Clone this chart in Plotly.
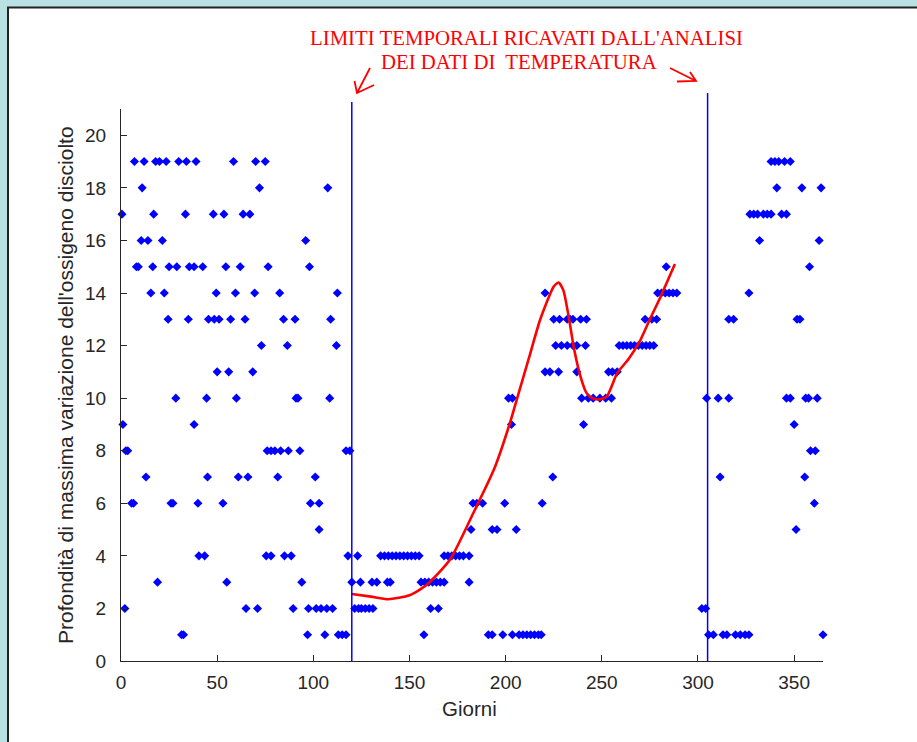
import plotly.graph_objects as go

# ---- data: days (Giorni) at which each depth value occurs ----
giorni_19 = [7, 12, 18, 20, 23.5, 30, 34, 39, 58.5, 70, 75, 338, 340, 342, 345, 348]
giorni_18 = [11, 72, 107.5, 341, 354, 364]
giorni_17 = [0.5, 17, 33.5, 48, 53.5, 63.5, 67, 327, 329, 331, 334, 336, 338, 343.5, 346]
giorni_16 = [10.5, 14, 21.5, 96, 332, 363]
giorni_15 = [8, 9, 16.5, 25, 29, 35.5, 38, 42.5, 54.5, 62, 76.5, 98, 283.5, 358]
giorni_14 = [15.5, 22.5, 49.5, 59.5, 69.5, 82.5, 112.5, 220.5, 279, 281, 283, 285, 287, 289, 326.5]
giorni_13 = [24.5, 35, 45.5, 48.5, 51, 57, 64.5, 84.5, 90.5, 109, 225, 228, 232, 233.5, 235, 239,
             242, 272.5, 276, 278.5, 316, 318.5, 351.5, 353]
giorni_12 = [73, 86.5, 112, 226, 229, 232, 235, 237, 241.5, 259, 261, 263, 265, 267, 269, 271,
             273, 275, 277]
giorni_11 = [50, 56, 68.5, 220.5, 223, 227.5, 237, 253.5, 255.5, 258]
giorni_10 = [28.5, 44.5, 60, 91, 92, 108.5, 201.5, 203.5, 239.5, 243, 245.5, 249, 252, 255,
             304.5, 310.5, 316, 346, 348, 356, 357.5, 362]
giorni_9 = [1, 38, 203, 240.5, 350]
giorni_8 = [2.5, 3.5, 76, 78, 80, 83, 87, 93, 117, 119, 358.5, 361]
giorni_7 = [13, 45, 61, 66, 81.5, 101, 224.5, 311.5, 355.5]
giorni_6 = [5.5, 6.5, 26, 27, 40, 53, 98.5, 103, 183, 185, 188, 199.5, 219, 360.5]
giorni_5 = [103, 182, 193, 195.5, 205.5, 351]
giorni_4 = [40.5, 43.5, 75.5, 78, 85, 88.5, 118, 123, 135, 137, 139, 141, 143, 145, 147, 149,
            151, 153, 155, 168, 170, 172, 174, 176, 178, 181]
giorni_3 = [19, 55, 94, 120, 124.5, 130.5, 133, 138.5, 140, 156, 158, 160, 162, 164, 166, 168, 181]
giorni_2 = [2, 65, 71, 89.5, 97.5, 101.5, 104, 107, 110, 121.5, 123.5, 125, 127, 129, 131,
            161, 165, 302, 304]
giorni_1 = [31.5, 32.5, 97, 106, 113, 115, 117, 157.5, 191, 193, 198.5, 203.5, 207, 209, 211,
            213, 215, 217, 218.5, 305.5, 308, 313, 315, 319.5, 322, 324.5, 326.5, 365]

righe = {19: giorni_19, 18: giorni_18, 17: giorni_17, 16: giorni_16, 15: giorni_15,
         14: giorni_14, 13: giorni_13, 12: giorni_12, 11: giorni_11, 10: giorni_10,
         9: giorni_9, 8: giorni_8, 7: giorni_7, 6: giorni_6, 5: giorni_5, 4: giorni_4,
         3: giorni_3, 2: giorni_2, 1: giorni_1}

# red fitted curve
curva_x = [120, 130, 139, 150, 159, 171, 183, 194, 202, 206, 212, 218, 225, 227.5, 230, 233,
           235.5, 239, 242, 245, 248.5, 252.5, 258, 264, 270, 275, 280.5, 288]
curva_y = [2.55, 2.45, 2.35, 2.5, 2.9, 3.85, 5.6, 7.3, 9.0, 10.0, 11.5, 13.0, 14.25, 14.4, 14.1,
           13.0, 11.9, 10.8, 10.2, 10.0, 9.95, 10.05, 10.95, 11.5, 12.2, 13.0, 13.85, 15.1]

# temporal limits
limiti = [120, 305]

x_ticks = [0, 50, 100, 150, 200, 250, 300, 350]
y_ticks = [0, 2, 4, 6, 8, 10, 12, 14, 16, 18, 20]

# ---- layout geometry ----
FW, FH = 917, 742
L, T, W, H = 121, 109, 702, 552
R, B = FW - L - W, FH - T - H


def px2x(px):
    return (px - L) / W


def py2y(py):
    return (T + H - py) / H


xs, ys = [], []
for depth, days in righe.items():
    xs += days
    ys += [depth] * len(days)

fig = go.Figure()
fig.add_trace(go.Scatter(x=xs, y=ys, mode="markers",
                         marker=dict(symbol="diamond", size=7, color="#0000ff"),
                         cliponaxis=False, showlegend=False, hoverinfo="x+y"))
fig.add_trace(go.Scatter(x=curva_x, y=curva_y, mode="lines",
                         line=dict(color="#ff0000", width=2.6, shape="spline", smoothing=0.6),
                         showlegend=False))

shapes = []
# frame: cyan strips + dark border
cyan = "#b9e0e3"
shapes.append(dict(type="rect", xref="paper", yref="paper", x0=px2x(0), x1=px2x(FW),
                   y0=py2y(0), y1=py2y(7), fillcolor=cyan, line=dict(width=0), layer="below"))
shapes.append(dict(type="rect", xref="paper", yref="paper", x0=px2x(0), x1=px2x(7),
                   y0=py2y(0), y1=py2y(FH), fillcolor=cyan, line=dict(width=0), layer="below"))
shapes.append(dict(type="line", xref="paper", yref="paper", x0=px2x(7), x1=px2x(FW),
                   y0=py2y(7.5), y1=py2y(7.5), line=dict(color="#222222", width=2)))
shapes.append(dict(type="line", xref="paper", yref="paper", x0=px2x(8), x1=px2x(8),
                   y0=py2y(7), y1=py2y(FH), line=dict(color="#222222", width=2)))

# vertical limit lines (extend above the axes)
tops = [py2y(102), py2y(93)]
for xv, top in zip(limiti, tops):
    shapes.append(dict(type="line", xref="x", yref="paper", x0=xv, x1=xv, y0=0, y1=top,
                       line=dict(color="#0000ff", width=1.5)))

# hand-drawn style arrows
def arrow(tail, tip, arm1, arm2):
    p = (f"M{px2x(tail[0])},{py2y(tail[1])} L{px2x(tip[0])},{py2y(tip[1])} "
         f"M{px2x(arm1[0])},{py2y(arm1[1])} L{px2x(tip[0])},{py2y(tip[1])} "
         f"L{px2x(arm2[0])},{py2y(arm2[1])}")
    return dict(type="path", xref="paper", yref="paper", path=p,
                line=dict(color="#ff0000", width=1.8))

shapes.append(arrow((370, 68), (357, 93), (354.5, 81), (374, 85)))
shapes.append(arrow((670, 68), (696, 81), (690, 72), (677, 81.5)))

annotations = [
    dict(text="LIMITI TEMPORALI RICAVATI DALL'ANALISI", xref="paper", yref="paper",
         x=px2x(526), y=py2y(38), showarrow=False, xanchor="center", yanchor="middle",
         font=dict(family="Liberation Serif", size=20.8, color="#ff0000")),
    dict(text="DEI DATI DI  TEMPERATURA", xref="paper", yref="paper",
         x=px2x(519), y=py2y(62), showarrow=False, xanchor="center", yanchor="middle",
         font=dict(family="Liberation Serif", size=20.8, color="#ff0000")),
    dict(text="Profondità di massima variazione dell'ossigeno disciolto", xref="paper",
         yref="paper", x=px2x(65), y=0.5, textangle=-90, showarrow=False,
         xanchor="center", yanchor="middle",
         font=dict(family="Liberation Sans", size=21, color="#262626")),
    dict(text="Giorni", xref="paper", yref="paper", x=px2x(469), y=py2y(708),
         showarrow=False, xanchor="center", yanchor="middle",
         font=dict(family="Liberation Sans", size=20.5, color="#262626")),
]

fig.update_layout(
    width=FW, height=FH,
    margin=dict(l=L, r=R, t=T, b=B, pad=0),
    paper_bgcolor="white", plot_bgcolor="white",
    shapes=shapes, annotations=annotations,
    font=dict(family="Liberation Sans", size=19, color="#262626"),
    xaxis=dict(range=[0, 365], tickvals=x_ticks, ticks="inside", ticklen=6,
               tickcolor="#262626", showline=True, linecolor="#262626", linewidth=1,
               showgrid=False, zeroline=False, ticklabelstandoff=4),
    yaxis=dict(range=[0, 21], tickvals=y_ticks, ticks="inside", ticklen=6,
               tickcolor="#262626", showline=True, linecolor="#262626", linewidth=1,
               showgrid=False, zeroline=False, ticklabelstandoff=10),
)

fig.write_html("out.html", config={"displayModeBar": False},
               post_script="document.body.style.margin='0';")
